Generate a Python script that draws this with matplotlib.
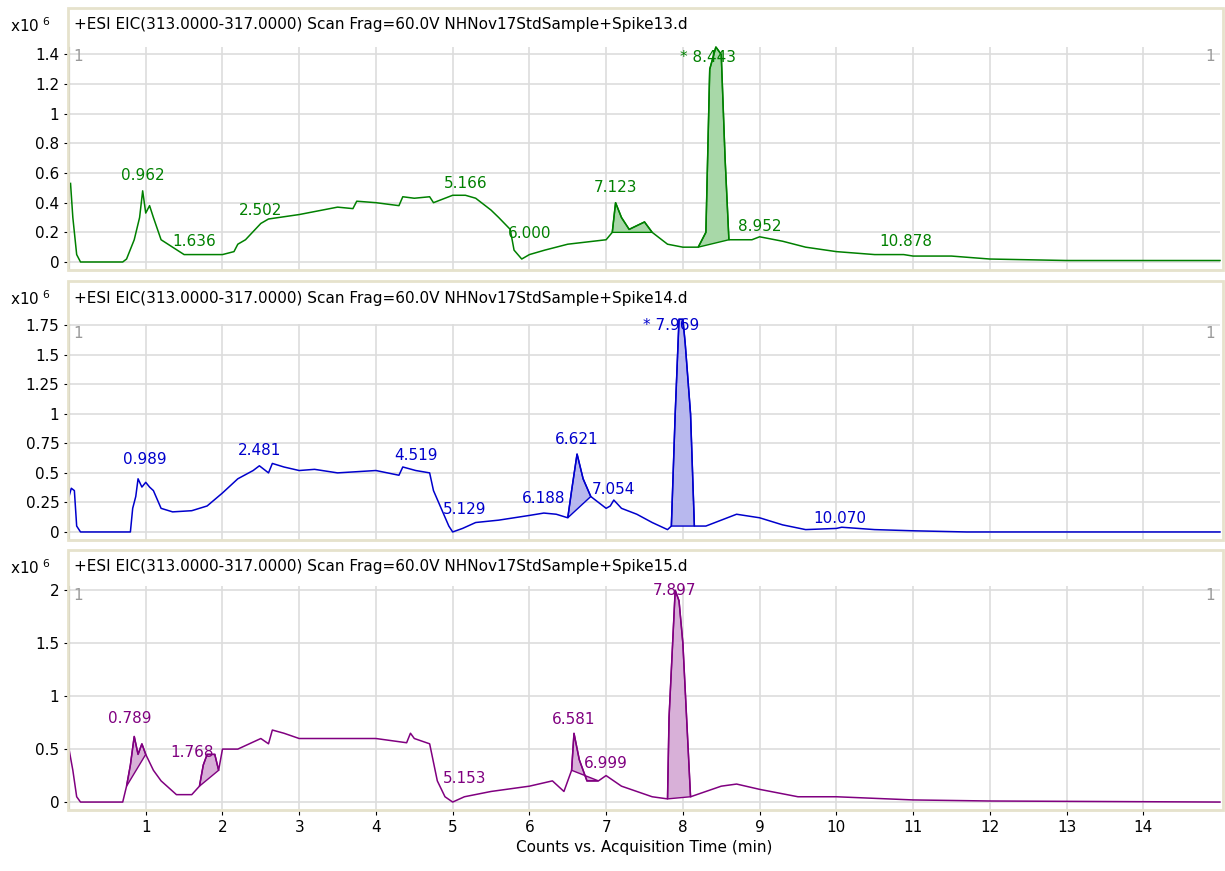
import matplotlib
matplotlib.use("Agg")
import matplotlib.pyplot as plt
from matplotlib.patches import Rectangle

t1 = [0.02,0.05,0.1,0.15,0.7,0.75,0.85,0.92,0.96,1.0,1.05,1.1,1.2,1.35,1.5,1.636,2.0,2.15,2.2,2.3,2.5,2.6,3.0,3.5,3.7,3.75,4.0,4.3,4.35,4.5,4.7,4.75,5.0,5.166,5.3,5.5,5.6,5.75,5.8,5.9,6.0,6.2,6.5,7.0,7.08,7.123,7.2,7.3,7.5,7.6,7.8,8.0,8.2,8.3,8.35,8.43,8.5,8.55,8.6,8.9,9.0,9.3,9.6,10.0,10.5,10.878,11,11.5,12,13,14,15]
v1 = [0.53,0.3,0.05,0.0,0.0,0.02,0.15,0.3,0.48,0.33,0.38,0.3,0.15,0.1,0.05,0.05,0.05,0.07,0.12,0.15,0.26,0.29,0.32,0.37,0.36,0.41,0.40,0.38,0.44,0.43,0.44,0.40,0.45,0.45,0.43,0.35,0.3,0.22,0.08,0.02,0.05,0.08,0.12,0.15,0.2,0.4,0.3,0.22,0.27,0.2,0.12,0.1,0.1,0.2,1.3,1.45,1.4,0.7,0.15,0.15,0.17,0.14,0.1,0.07,0.05,0.05,0.04,0.04,0.02,0.01,0.01,0.01]
t2 = [0.0,0.03,0.07,0.1,0.15,0.8,0.83,0.87,0.9,0.95,1.0,1.05,1.1,1.2,1.35,1.6,1.8,2.0,2.2,2.4,2.481,2.6,2.65,2.8,3.0,3.2,3.5,4.0,4.3,4.35,4.519,4.7,4.75,4.85,4.95,5.0,5.129,5.3,5.6,6.0,6.188,6.35,6.5,6.55,6.621,6.7,6.8,7.0,7.054,7.1,7.2,7.4,7.6,7.8,7.85,7.9,7.95,8.0,8.03,8.1,8.15,8.3,8.5,8.7,9.0,9.3,9.6,10.0,10.07,10.5,11,11.7,15]
v2 = [0.3,0.37,0.35,0.05,0.0,0.0,0.2,0.3,0.45,0.38,0.42,0.38,0.35,0.2,0.17,0.18,0.22,0.33,0.45,0.52,0.56,0.5,0.58,0.55,0.52,0.53,0.5,0.52,0.48,0.55,0.52,0.5,0.35,0.2,0.05,0.0,0.03,0.08,0.1,0.14,0.16,0.15,0.12,0.35,0.66,0.45,0.3,0.2,0.22,0.27,0.2,0.15,0.08,0.02,0.05,1.0,1.8,1.8,1.6,1.0,0.05,0.05,0.1,0.15,0.12,0.06,0.02,0.03,0.04,0.02,0.01,0.0,0.0]
t3 = [0.0,0.05,0.1,0.15,0.7,0.75,0.8,0.85,0.9,0.95,1.0,1.1,1.2,1.4,1.6,1.7,1.75,1.8,1.9,1.95,2.0,2.2,2.5,2.6,2.65,2.8,3.0,3.5,4.0,4.4,4.45,4.5,4.7,4.8,4.9,5.0,5.153,5.5,6.0,6.3,6.45,6.55,6.581,6.65,6.75,6.9,6.999,7.2,7.4,7.6,7.8,7.82,7.9,7.95,8.0,8.1,8.5,8.7,9.0,9.5,10,11,12,15]
v3 = [0.5,0.3,0.05,0.0,0.0,0.15,0.35,0.62,0.45,0.55,0.45,0.3,0.2,0.07,0.07,0.15,0.35,0.45,0.45,0.3,0.5,0.5,0.6,0.55,0.68,0.65,0.6,0.6,0.6,0.56,0.65,0.6,0.55,0.2,0.05,0.0,0.05,0.1,0.15,0.2,0.1,0.3,0.65,0.4,0.2,0.2,0.25,0.15,0.1,0.05,0.03,0.8,2.0,1.9,1.5,0.05,0.15,0.17,0.12,0.05,0.05,0.02,0.01,0.0]

fills1 = [(7.08,7.6),(8.2,8.6)]
fills2 = [(6.5,6.95),(7.82,8.15)]
fills3 = [(0.75,1.0),(1.7,1.95),(6.5,6.9),(7.8,8.1)]
labels1 = [("0.962",0.962,0.53),("1.636",1.636,0.09),("2.502",2.502,0.3),("5.166",5.166,0.48),("6.000",6.0,0.14),("7.123",7.123,0.45),("* 8.443",8.33,1.33),("8.952",9.0,0.19),("10.878",10.9,0.09)]
labels2 = [("0.989",0.989,0.55),("2.481",2.481,0.63),("4.519",4.519,0.58),("5.129",5.15,0.13),("6.188",6.188,0.22),("6.621",6.621,0.72),("7.054",7.1,0.3),("* 7.969",7.85,1.68),("10.070",10.05,0.05)]
labels3 = [("0.789",0.789,0.72),("1.768",1.6,0.4),("5.153",5.153,0.15),("6.581",6.581,0.71),("6.999",7.0,0.29),("7.897",7.897,1.93)]
titles = ["+ESI EIC(313.0000-317.0000) Scan Frag=60.0V NHNov17StdSample+Spike13.d",
          "+ESI EIC(313.0000-317.0000) Scan Frag=60.0V NHNov17StdSample+Spike14.d",
          "+ESI EIC(313.0000-317.0000) Scan Frag=60.0V NHNov17StdSample+Spike15.d"]
yticks = [[0,0.2,0.4,0.6,0.8,1,1.2,1.4],[0,0.25,0.5,0.75,1,1.25,1.5,1.75],[0,0.5,1,1.5,2]]
ylims = [(-0.054,1.45),(-0.068,1.76),(-0.075,2.04)]
colors = ["#008000","#0000CC","#800080"]
fillc = ["#a8d8a8","#b8b8ee","#d8b0d8"]
xticks = list(range(1,15))

fig = plt.figure(figsize=(12.25,8.71), dpi=100)
H = 871.0
boxes = [(47,270,8),(324,540,281),(586,810,550)]
data = [(t1,v1,fills1,labels1),(t2,v2,fills2,labels2),(t3,v3,fills3,labels3)]
for i,((top,bot,ftop),(t,v,fills,labels)) in enumerate(zip(boxes,data)):
    ax = fig.add_axes([69/1225, 1-bot/H, (1220-69)/1225, (bot-top)/H])
    c = colors[i]
    for a,b in fills:
        xs = [x for x in t if a <= x <= b]
        ys = [y for x,y in zip(t,v) if a <= x <= b]
        ax.fill(xs, ys, facecolor=fillc[i], edgecolor=c, lw=1.0, zorder=2, clip_on=False)
    ax.plot(t, v, color=c, lw=1.1, zorder=3, clip_on=False)
    for s,x,y in labels:
        ax.text(x, y, s, color=c, fontsize=11, ha="center", va="bottom", zorder=4)
    ax.set_xlim(0,15); ax.set_ylim(*ylims[i])
    ax.set_yticks(yticks[i]); ax.set_yticklabels([f"{y:g}" for y in yticks[i]], fontsize=11)
    ax.set_xticks(xticks)
    ax.grid(True, color="#dddddd", lw=1.2, zorder=0)
    ax.set_axisbelow(True)
    for s in ["top","right"]:
        ax.spines[s].set_visible(False)
    ax.spines["left"].set_color("#888888"); ax.spines["bottom"].set_color("#888888")
    if i < 2:
        ax.tick_params(axis="x", labelbottom=False, length=0)
    else:
        ax.set_xticklabels([str(x) for x in xticks], fontsize=11)
        ax.set_xlabel("Counts vs. Acquisition Time (min)", fontsize=11)
    ax.text(0.004, 0.99, "1", transform=ax.transAxes, color="#999999", fontsize=11, va="top")
    ax.text(0.996, 0.99, "1", transform=ax.transAxes, color="#999999", fontsize=11, va="top", ha="right")
    fig.patches.append(Rectangle((68/1225, 1-bot/H), (1223-68)/1225, (bot-ftop)/H, transform=fig.transFigure,
                                 fill=False, edgecolor="#e6e2cc", lw=2))
    fig.text(74/1225, 1-(ftop+17)/H, titles[i], fontsize=11, va="center")
    fig.text(10/1225, 1-(ftop+18)/H, "x10$^{\\ 6}$", fontsize=11, va="center")

fig.savefig("out.png", dpi=100)
